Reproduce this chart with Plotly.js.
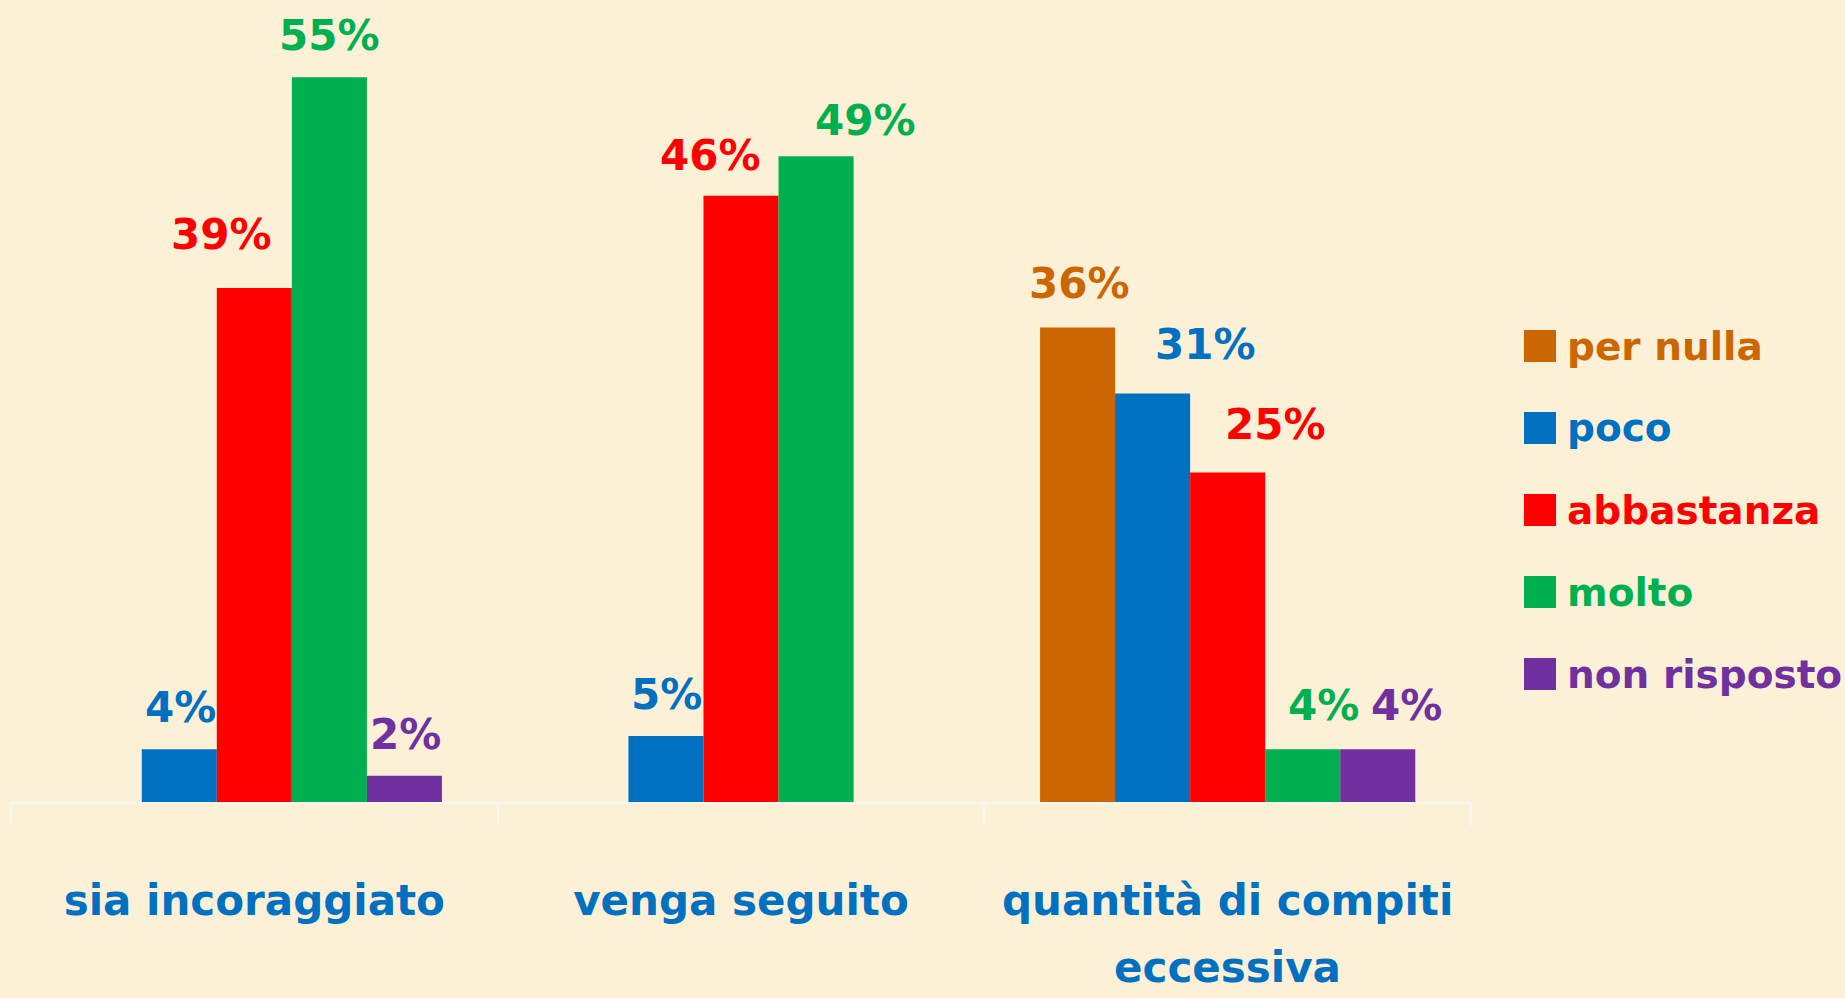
<!DOCTYPE html>
<html>
<head>
<meta charset="utf-8">
<script src="https://cdn.plot.ly/plotly-3.0.1.min.js"></script>
<style>
  html, body { margin: 0; padding: 0; background: #FCF0D7; }
  #chart { width: 1845px; height: 998px; }
</style>
</head>
<body>
<div id="chart"></div>
<script>
// ---- data ----
const categories = ['sia incoraggiato', 'venga seguito', 'quantità di compiti eccessiva'];
const tickLine1 = ['sia incoraggiato', 'venga seguito', 'quantità di compiti'];
const tickLine2 = ['', '', 'eccessiva'];
const seriesNames = ['per nulla', 'poco', 'abbastanza', 'molto', 'non risposto'];
const perNulla    = [0, 0, 36];
const poco        = [4, 5, 31];
const abbastanza  = [39, 46, 25];
const molto       = [55, 49, 4];
const nonRisposto = [2, 0, 4];

// ---- style ----
const colors = ['#CC6600', '#0070C0', '#FF0000', '#00B050', '#7030A0'];
const FONT = 'Comic Sans MS, DejaVu Sans, sans-serif';
const W = 1845, H = 998;
const M = {l: 11, r: 374, t: 0, b: 196};
const PW = W - M.l - M.r, PH = H - M.t - M.b;
const yMax = 60.86;
const bargap = 0.229;
// manual label nudges (px): [series][category]
const labelDx = [[0,0,2],[1,1,53],[-33,-31,48],[0,49,21],[1,0,29]];
const labelDy = [[0,0,44],[42,42,49],[54,40,48],[42,36,44],[41,0,44]];

const values = [perNulla, poco, abbastanza, molto, nonRisposto];
const catIdx = categories.map((c, i) => i);

const traces = values.map((v, s) => ({
  type: 'bar',
  name: seriesNames[s],
  x: categories,
  y: v,
  marker: {color: colors[s], line: {width: 0}},
  showlegend: false,
  hoverinfo: 'skip'
}));

const annotations = [];
const nS = values.length;
const slotW = (1 - bargap) / nS;
values.forEach((v, s) => {
  v.forEach((val, c) => {
    if (!val) return;
    annotations.push({
      xref: 'x', yref: 'y',
      x: catIdx[c] - (1 - bargap) / 2 + (s + 0.5) * slotW,
      y: val,
      text: val + '%',
      showarrow: false,
      xanchor: 'center', yanchor: 'middle',
      xshift: labelDx[s][c], yshift: labelDy[s][c],
      font: {family: FONT, size: 42, color: colors[s], weight: 'bold'}
    });
  });
});
// second line of category labels
tickLine2.forEach((t, c) => {
  if (!t) return;
  annotations.push({
    xref: 'x', yref: 'paper',
    x: catIdx[c], y: 0,
    yshift: -(967 - (M.t + PH)),
    text: t, showarrow: false,
    xanchor: 'center', yanchor: 'middle',
    font: {family: FONT, size: 42, color: '#0070C0', weight: 'bold'}
  });
});

// legend (keys + labels)
const px2x = p => (p - M.l) / PW;
const py2y = p => 1 - (p - M.t) / PH;
const legendY = [346, 428, 510, 592, 674];
const shapes = [];
seriesNames.forEach((n, s) => {
  shapes.push({
    type: 'rect', xref: 'paper', yref: 'paper',
    x0: px2x(1524), x1: px2x(1556),
    y0: py2y(legendY[s] - 16), y1: py2y(legendY[s] + 16),
    fillcolor: colors[s], line: {width: 0}
  });
  annotations.push({
    xref: 'paper', yref: 'paper',
    x: px2x(1565), y: py2y(legendY[s]),
    text: n, showarrow: false,
    xanchor: 'left', yanchor: 'middle',
    font: {family: FONT, size: 39, color: colors[s], weight: 'bold'}
  });
});

const layout = {
  width: W, height: H,
  margin: M,
  paper_bgcolor: '#FCF0D7',
  plot_bgcolor: 'rgba(0,0,0,0)',
  barmode: 'group',
  bargap: bargap,
  bargroupgap: 0,
  showlegend: false,
  xaxis: {
    type: 'category',
    tickmode: 'array',
    tickvals: categories,
    ticktext: tickLine1,
    tickson: 'boundaries',
    ticks: 'outside', ticklen: 22, tickwidth: 2, tickcolor: '#F6F6F2',
    showline: true, linecolor: '#F6F6F2', linewidth: 2,
    showgrid: false, zeroline: false,
    ticklabelstandoff: 61,
    tickfont: {family: FONT, size: 42, color: '#0070C0', weight: 'bold'},
    fixedrange: true
  },
  yaxis: {
    range: [0, yMax],
    visible: false,
    showgrid: false, zeroline: false,
    fixedrange: true
  },
  annotations: annotations,
  shapes: shapes
};

Plotly.newPlot('chart', traces, layout, {displayModeBar: false, staticPlot: true});
</script>
</body>
</html>
